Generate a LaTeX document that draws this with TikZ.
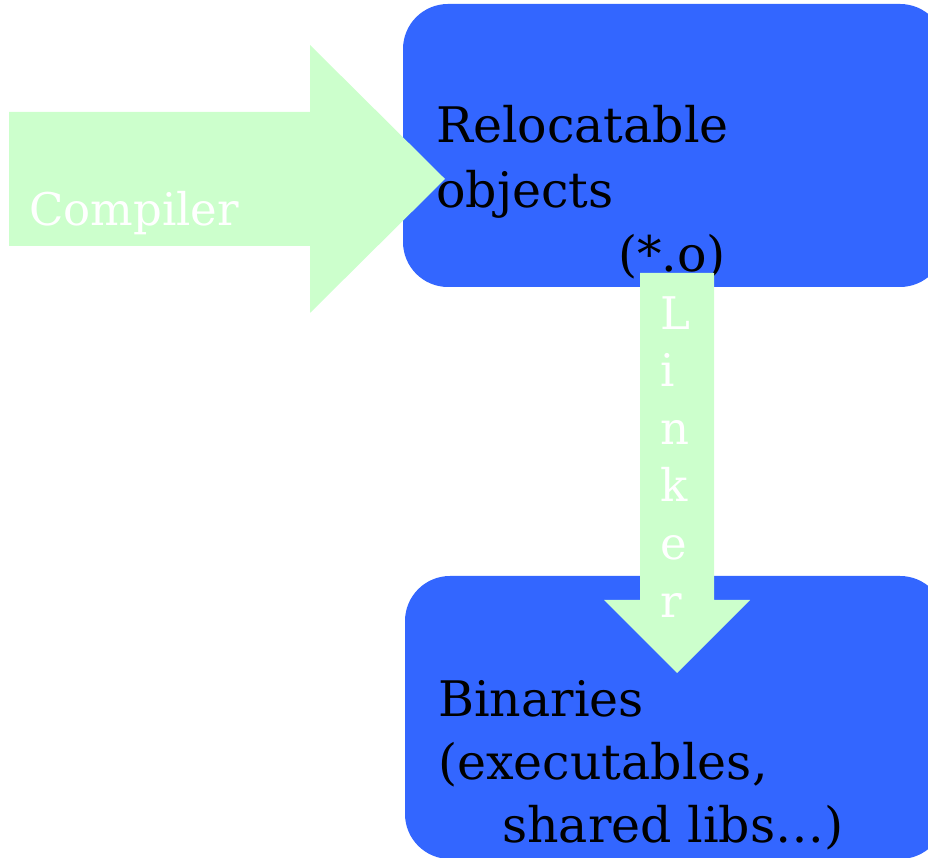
\documentclass[tikz,border=0pt]{standalone}
\usepackage{fontspec}
\setmainfont{DejaVu Serif}
\definecolor{boxblue}{HTML}{3366FF}
\definecolor{arrowgreen}{HTML}{CCFFCC}
\tikzset{
  box/.style={fill=boxblue, draw=none, rounded corners=45pt},
  bigarrow/.style={fill=arrowgreen, draw=none},
  boxtext/.style={anchor=base west, inner sep=0pt, font=\fontsize{49}{58}\selectfont, text=black},
  arrowtext/.style={anchor=base west, inner sep=0pt, font=\fontsize{45}{54}\selectfont, text=white},
}
\begin{document}
\begin{tikzpicture}[x=1pt,y=1pt]
\useasboundingbox (0,0) rectangle (928,858);
\clip (0,0) rectangle (928,858);
% boxes
\draw[box] (403,571) rectangle (945,854);
\coordinate (objbox) at (674,712);
\draw[box] (405,-1) rectangle (945,282);
\coordinate (binbox) at (675,140);
% compiler arrow
\fill[bigarrow] (9,746) -- (310,746) -- (310,813) -- (445,679) -- (310,545) -- (310,612) -- (9,612) -- cycle;
\node[arrowtext] (compiler) at (29,632) {Compiler};
% top box text
\node[boxtext] (reloc) at (436,715) {Relocatable};
\node[boxtext] (objects) at (436,650) {objects};
\node[boxtext] (ext) at (618,586) {(*.o)};
% linker arrow
\fill[bigarrow] (640,585) -- (714,585) -- (714,258) -- (750,258) -- (677,185) -- (604,258) -- (640,258) -- cycle;
\node[arrowtext] (l1) at (660,528) {L};
\node[arrowtext] (l2) at (660,471) {i};
\node[arrowtext] (l3) at (660,413) {n};
\node[arrowtext] (l4) at (660,356) {k};
\node[arrowtext] (l5) at (660,298) {e};
\node[arrowtext] (l6) at (660,240) {r};
% bottom box text
\node[boxtext] (bin) at (438,141) {Binaries};
\node[boxtext] (exe) at (438,78) {(executables,};
\node[boxtext] (libs) at (502,15) {shared libs…)};
\end{tikzpicture}
\end{document}
